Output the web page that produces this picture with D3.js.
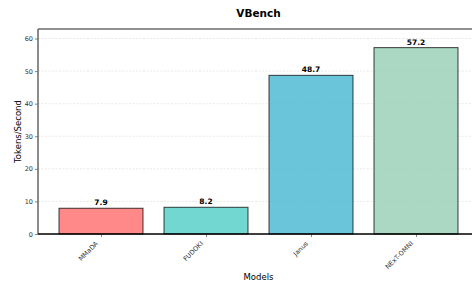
<!DOCTYPE html>
<html>
<head>
<meta charset="utf-8">
<script src="https://cdn.jsdelivr.net/npm/d3@7"></script>
<style>
  body { margin: 0; background: #fff; }
  text { font-family: "DejaVu Sans", sans-serif; }
</style>
</head>
<body>
<svg id="chart" width="472" height="285"></svg>
<script>
const models = ["MMaDA", "FUDOKI", "Janus", "NExT-OMNI"]
const tokensPerSecond = [7.9, 8.2, 48.7, 57.2]
const barColors = ["#FF6B6B", "#4ECDC4", "#45B7D1", "#96CEB4"]
const yTicks = [0, 10, 20, 30, 40, 50, 60]

const svg = d3.select("#chart")
const plotL = 38, plotR = 479, plotT = 29, plotB = 234

// matplotlib style: bars at integer positions, width 0.8, margins 0.6
const x = d3.scaleLinear().domain([-0.6, models.length - 0.4]).range([plotL, plotR])
const y = d3.scaleLinear().domain([0, d3.max(tokensPerSecond) * 1.1]).range([plotB, plotT])

// grid
svg.append("g")
    .selectAll("line")
    .data(yTicks)
    .enter()
    .append("line")
    .attr("x1", plotL).attr("x2", plotR)
    .attr("y1", d => y(d)).attr("y2", d => y(d))
    .attr("stroke", "#b0b0b0")
    .attr("stroke-opacity", 0.35)
    .attr("stroke-dasharray", "2,1.5")
    .attr("stroke-width", 0.8)

// bars
svg.append("g")
    .selectAll("rect")
    .data(tokensPerSecond)
    .enter()
    .append("rect")
    .attr("x", (d, i) => x(i - 0.4))
    .attr("width", x(0.8) - x(0))
    .attr("y", d => y(d))
    .attr("height", d => y(0) - y(d))
    .attr("fill", (d, i) => barColors[i])
    .attr("fill-opacity", 0.8)
    .attr("stroke", "#000")
    .attr("stroke-opacity", 0.75)
    .attr("stroke-width", 1)

// value labels
svg.append("g")
    .selectAll("text")
    .data(tokensPerSecond)
    .enter()
    .append("text")
    .attr("x", (d, i) => x(i))
    .attr("y", d => y(d) - 3)
    .attr("text-anchor", "middle")
    .attr("font-size", 7.5)
    .attr("font-weight", "bold")
    .text(d => d.toFixed(1))

// y axis
const yAxis = svg.append("g")
    .attr("transform", `translate(${plotL},0)`)
    .call(d3.axisLeft(y).tickValues(yTicks).tickSize(3).tickPadding(2))
yAxis.select(".domain").remove()
yAxis.selectAll("text").attr("font-size", 6.5).attr("fill", "#333")
yAxis.selectAll("line").attr("stroke", "#333").attr("stroke-width", 0.6)

// x axis
const xAxis = svg.append("g")
    .attr("transform", `translate(0,${plotB})`)
    .call(d3.axisBottom(x).tickValues(d3.range(models.length)).tickFormat(i => models[i]).tickSize(3))
xAxis.select(".domain").remove()
xAxis.selectAll("line").attr("stroke", "#333").attr("stroke-width", 0.6)
xAxis.selectAll("text")
    .attr("font-size", 6.5)
    .attr("fill", "#333")
    .attr("text-anchor", "end")
    .attr("x", 0).attr("y", 0).attr("dy", 0)
    .attr("transform", "translate(-3,10) rotate(-45)")

// spines
svg.append("line").attr("x1", plotL).attr("x2", plotR).attr("y1", plotT).attr("y2", plotT)
    .attr("stroke", "#222").attr("stroke-width", 1)
svg.append("line").attr("x1", plotL).attr("x2", plotL).attr("y1", plotT).attr("y2", plotB)
    .attr("stroke", "#666").attr("stroke-width", 1.5)
svg.append("line").attr("x1", plotL).attr("x2", plotR).attr("y1", plotB).attr("y2", plotB)
    .attr("stroke", "#000").attr("stroke-width", 1.5)

// labels
svg.append("text")
    .attr("x", (plotL + plotR) / 2).attr("y", 17)
    .attr("text-anchor", "middle")
    .attr("font-size", 10.5)
    .attr("font-weight", "bold")
    .text("VBench")

svg.append("text")
    .attr("x", (plotL + plotR) / 2).attr("y", 280)
    .attr("text-anchor", "middle")
    .attr("font-size", 8.5)
    .text("Models")

svg.append("text")
    .attr("transform", `translate(21,${(plotT + plotB) / 2}) rotate(-90)`)
    .attr("text-anchor", "middle")
    .attr("font-size", 8.5)
    .text("Tokens/Second")
</script>
</body>
</html>
